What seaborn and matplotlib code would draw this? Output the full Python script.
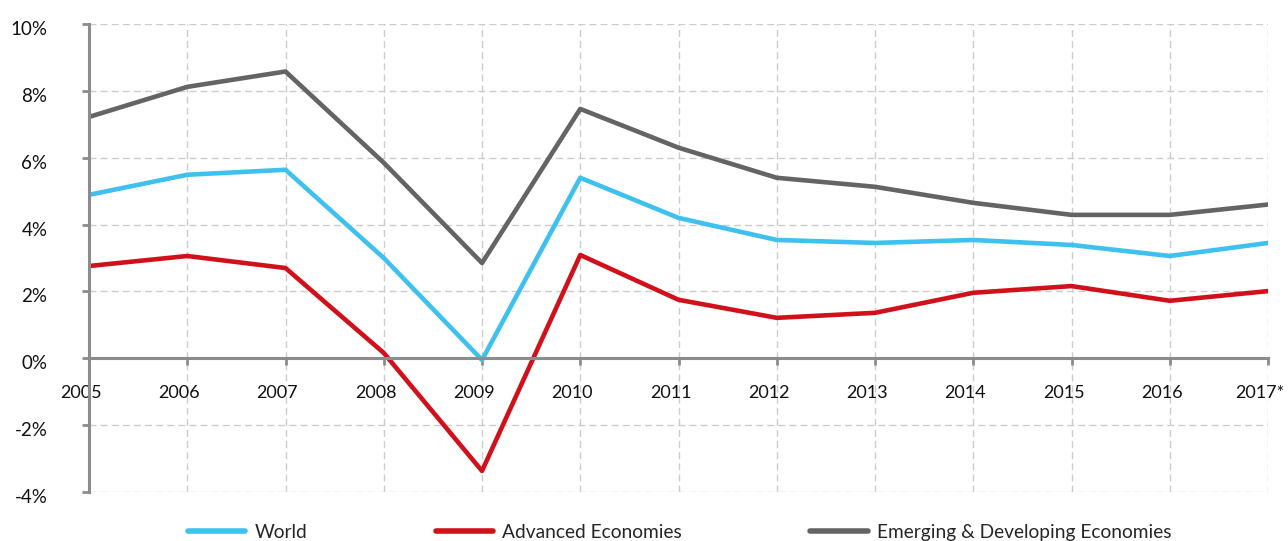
import pandas as pd
import seaborn as sns
import matplotlib.pyplot as plt
import matplotlib.transforms as mtransforms
from matplotlib.ticker import FuncFormatter

# Data (annual GDP growth, %)
years = [2005, 2006, 2007, 2008, 2009, 2010, 2011, 2012, 2013, 2014, 2015, 2016, 2017]
year_labels = ['2005', '2006', '2007', '2008', '2009', '2010', '2011',
               '2012', '2013', '2014', '2015', '2016', '2017*']
world = [4.89, 5.49, 5.64, 3.0, -0.05, 5.4, 4.2, 3.54, 3.45, 3.54, 3.39, 3.06, 3.45]
advanced = [2.76, 3.06, 2.7, 0.16, -3.37, 3.09, 1.75, 1.21, 1.36, 1.96, 2.16, 1.72, 2.01]
emerging = [7.22, 8.12, 8.58, 5.85, 2.85, 7.46, 6.3, 5.4, 5.13, 4.65, 4.29, 4.29, 4.6]

series = ['World', 'Advanced Economies', 'Emerging & Developing Economies']
colors = ['#3EC1EE', '#D0111B', '#646464']

df = pd.DataFrame({
    'year': years * 3,
    'growth': world + advanced + emerging,
    'series': [series[0]] * 13 + [series[1]] * 13 + [series[2]] * 13,
})

sns.set_style('white')
plt.rcParams['font.family'] = ['Lato', 'DejaVu Sans']

fig = plt.figure(figsize=(12.88, 5.41), dpi=100)
ax = fig.add_axes([0.0691, 0.0906, 0.9154, 0.865])

sns.lineplot(data=df, x='year', y='growth', hue='series', hue_order=series,
             palette=colors, linewidth=3.3, ax=ax, legend=False)

ax.set_xlim(2005, 2017)
ax.set_ylim(-4, 10)
ax.set_yticks([-4, -2, 0, 2, 4, 6, 8, 10])
ax.yaxis.set_major_formatter(FuncFormatter(lambda v, p: f'{v:.0f}%'))
ax.set_xticks(years)
ax.set_xticklabels(year_labels)
ax.set_xlabel('')
ax.set_ylabel('')

# grid
ax.grid(True, color='#cccccc', linestyle=(0, (5, 3)), linewidth=1)
ax.set_axisbelow(True)

# spines: left axis plus a zero line
for s in ['top', 'right']:
    ax.spines[s].set_visible(False)
ax.spines['bottom'].set_position(('data', 0))
ax.spines['bottom'].set_color('#8c8c8c')
ax.spines['bottom'].set_linewidth(2.2)
ax.spines['left'].set_color('#8c8c8c')
ax.spines['left'].set_linewidth(2.2)

ax.tick_params(axis='y', which='both', direction='out', length=5, width=2,
               color='#8c8c8c', pad=25, labelsize=13.5, labelcolor='#111111', left=True)
ax.tick_params(axis='x', which='both', direction='out', length=5, width=2,
               color='#8c8c8c', pad=14.5, labelsize=13, labelcolor='#111111', bottom=True)

# labels sit a little off their ticks in the original
yshift = mtransforms.ScaledTranslation(0, -4 / 100, fig.dpi_scale_trans)
for lbl in ax.get_yticklabels():
    lbl.set_transform(lbl.get_transform() + yshift)
xshift = mtransforms.ScaledTranslation(-8 / 100, 0, fig.dpi_scale_trans)
for lbl in ax.get_xticklabels():
    lbl.set_transform(lbl.get_transform() + xshift)

# legend at the bottom
handles = [plt.Line2D([], [], color=c, linewidth=4, solid_capstyle='round') for c in colors]
fig.legend(handles, series, loc='center', bbox_to_anchor=(0.5276, 0.0166),
           ncol=3, frameon=False, fontsize=13.8, handlelength=3.0,
           columnspacing=6.7, handletextpad=0.47, borderpad=0)

fig.savefig('out.png', dpi=100)
